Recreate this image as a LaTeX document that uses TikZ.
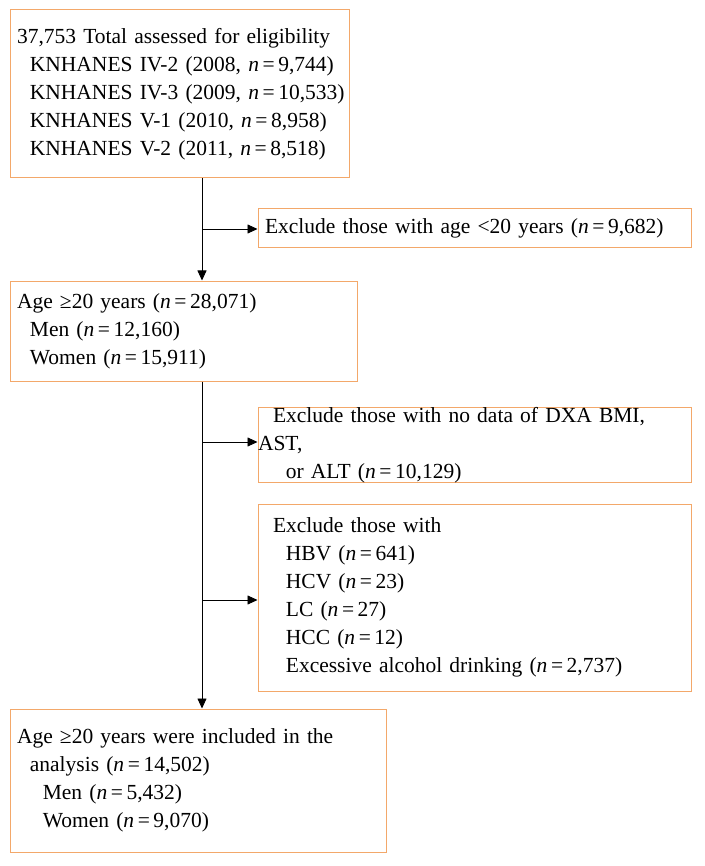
\documentclass[tikz,border=0pt]{standalone}
\usepackage{fontspec}
\setmainfont{Liberation Serif}
\usetikzlibrary{arrows.meta}
\definecolor{bord}{HTML}{F3A86A}
\begin{document}
\begin{tikzpicture}[x=1pt,y=-1pt,
  box/.style={draw=bord,line width=1pt,align=left,inner sep=0pt,font=\fontsize{21.5}{28}\selectfont,text width=#1},
  arr/.style={-{Triangle[length=10pt,width=9pt]},line width=0.8pt}]
\useasboundingbox (0,0) rectangle (704,866);
\newcommand{\ind}{\hspace*{0.6em}}
\newcommand{\indd}{\hspace*{1.2em}}
\newcommand{\eqn}{\textit{n}\,=\,}
\node[box=339pt,minimum height=168pt] (b1) at (179.5,94) {\hspace*{7pt}37,753 Total assessed for eligibility\\\hspace*{7pt}\ind KNHANES IV-2 (2008, \eqn9,744)\\\hspace*{7pt}\ind KNHANES IV-3 (2009, \eqn10,533)\\\hspace*{7pt}\ind KNHANES V-1 (2010, \eqn8,958)\\\hspace*{7pt}\ind KNHANES V-2 (2011, \eqn8,518)};
\node[box=433pt,minimum height=39pt] (b2) at (474.5,228.5) {\hspace*{7pt}Exclude those with age <20 years (\eqn9,682)};
\node[box=347pt,minimum height=100pt] (b3) at (183.5,331) {\hspace*{7pt}Age ≥20 years (\eqn28,071)\\\hspace*{7pt}\ind Men (\eqn12,160)\\\hspace*{7pt}\ind Women (\eqn15,911)};
\node[box=433pt,minimum height=66pt] (b4) at (474.5,445) {\hspace*{15pt}Exclude those with no data of DXA BMI, AST,\\\hspace*{15pt}\ind or ALT (\eqn10,129)};
\node[box=433pt,minimum height=187pt] (b5) at (474.5,597.5) {\hspace*{15pt}Exclude those with\\\hspace*{15pt}\ind HBV (\eqn641)\\\hspace*{15pt}\ind HCV (\eqn23)\\\hspace*{15pt}\ind LC (\eqn27)\\\hspace*{15pt}\ind HCC (\eqn12)\\\hspace*{15pt}\ind Excessive alcohol drinking (\eqn2,737)};
\node[box=376pt,minimum height=143pt] (b6) at (198,780.5) {\hspace*{7pt}Age ≥20 years were included in the\\\hspace*{7pt}\ind analysis (\eqn14,502)\\\hspace*{7pt}\indd Men (\eqn5,432)\\\hspace*{7pt}\indd Women (\eqn9,070)};
\coordinate (j1) at (202,229);
\coordinate (j2) at (202,442);
\coordinate (j3) at (202,600);
\draw[arr] (b1.south -| j1) -- (b3.north -| j1);
\draw[arr] (j1) -- (b2.west |- j1);
\draw[arr] (b3.south -| j1) -- (b6.north -| j1);
\draw[arr] (j2) -- (b4.west |- j2);
\draw[arr] (j3) -- (b5.west |- j3);
\end{tikzpicture}
\end{document}
